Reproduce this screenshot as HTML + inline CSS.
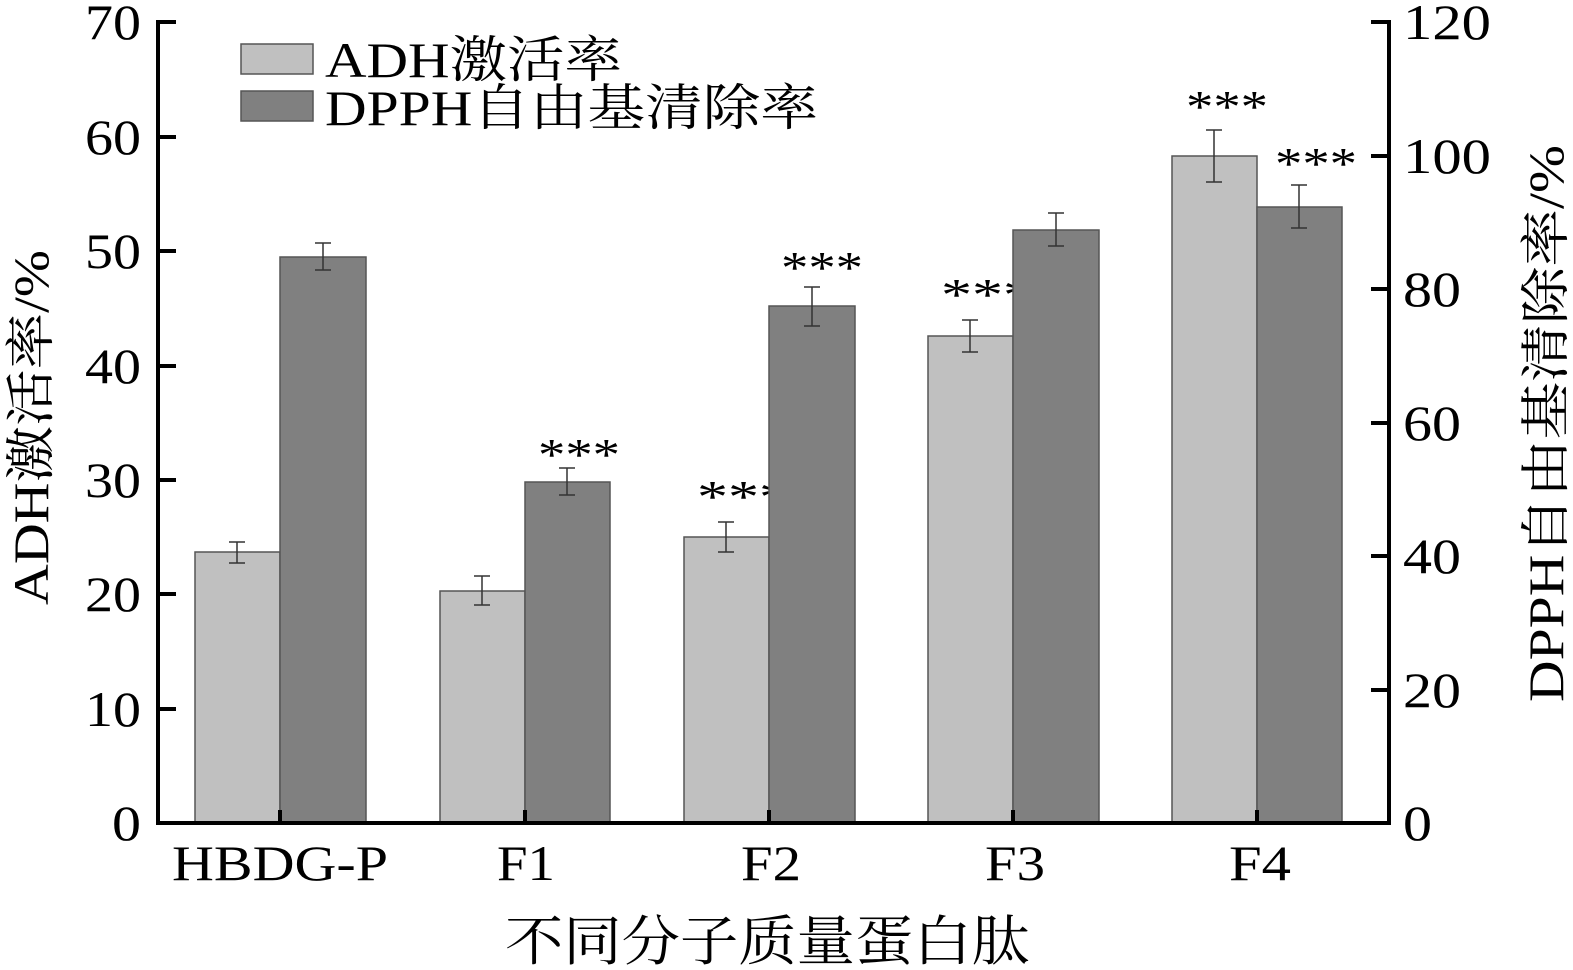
<!DOCTYPE html>
<html><head><style>body{margin:0;background:#fff}svg{display:block}text{font-family:"Liberation Serif","Noto Serif CJK SC",serif;fill:#000}</style></head>
<body>
<svg width="1573" height="970" viewBox="0 0 1573 970" xmlns="http://www.w3.org/2000/svg">
<g stroke="#555" stroke-width="1.5">
<rect x="195" y="552" width="85" height="271" fill="#c0c0c0"/>
<rect x="280" y="257" width="86" height="566" fill="#808080"/>
<rect x="440" y="591" width="85" height="232" fill="#c0c0c0"/>
<rect x="525" y="482" width="85" height="341" fill="#808080"/>
<rect x="684" y="537" width="85" height="286" fill="#c0c0c0"/>
<rect x="928" y="336" width="85" height="487" fill="#c0c0c0"/>
<rect x="1172" y="156" width="85" height="667" fill="#c0c0c0"/>
<rect x="1257" y="207" width="85" height="616" fill="#808080"/>
</g>
<g font-size="46">
<text x="538" y="470" textLength="82" lengthAdjust="spacingAndGlyphs">***</text>
<text x="781" y="283" textLength="82" lengthAdjust="spacingAndGlyphs">***</text>
<text x="1275" y="179" textLength="82" lengthAdjust="spacingAndGlyphs">***</text>
<text x="1186" y="122" textLength="82" lengthAdjust="spacingAndGlyphs">***</text>
<text x="697" y="512" textLength="93" lengthAdjust="spacingAndGlyphs">***</text>
<text x="941" y="310" textLength="93" lengthAdjust="spacingAndGlyphs">***</text>
</g>
<g stroke="#555" stroke-width="1.5">
<rect x="769" y="306" width="86" height="517" fill="#808080"/>
<rect x="1013" y="230" width="86" height="593" fill="#808080"/>
</g>
<g stroke="#333" stroke-width="1.5" fill="none">
<path d="M237 542V563M229 542H245M229 563H245"/>
<path d="M323 243V270M315 243H331M315 270H331"/>
<path d="M482 576V605M474 576H490M474 605H490"/>
<path d="M567 468V495M559 468H575M559 495H575"/>
<path d="M726 522V552M718 522H734M718 552H734"/>
<path d="M812 287V326M804 287H820M804 326H820"/>
<path d="M970 320V352M962 320H978M962 352H978"/>
<path d="M1056 213V246M1048 213H1064M1048 246H1064"/>
<path d="M1214 130V182M1206 130H1222M1206 182H1222"/>
<path d="M1299 185V228M1291 185H1307M1291 228H1307"/>
</g>
<g stroke="#000" stroke-width="4" fill="none">
<path d="M158 20V823H1389V20"/>
<path d="M158 22H176M158 137H176M158 251H176M158 366H176M158 480H176M158 594H176M158 709H176"/>
<path d="M1389 22H1371M1389 156H1371M1389 289H1371M1389 423H1371M1389 556H1371M1389 690H1371"/>
<path d="M280 823V810M525 823V810M769 823V810M1013 823V810M1257 823V810"/>
</g>
<g font-size="50">
<text x="85" y="39" textLength="56" lengthAdjust="spacingAndGlyphs">70</text>
<text x="85" y="154" textLength="56" lengthAdjust="spacingAndGlyphs">60</text>
<text x="85" y="268" textLength="56" lengthAdjust="spacingAndGlyphs">50</text>
<text x="85" y="383" textLength="56" lengthAdjust="spacingAndGlyphs">40</text>
<text x="85" y="497" textLength="56" lengthAdjust="spacingAndGlyphs">30</text>
<text x="85" y="611" textLength="56" lengthAdjust="spacingAndGlyphs">20</text>
<text x="85" y="726" textLength="56" lengthAdjust="spacingAndGlyphs">10</text>
<text x="112" y="840" textLength="29" lengthAdjust="spacingAndGlyphs">0</text>
<text x="1403" y="39" textLength="88" lengthAdjust="spacingAndGlyphs">120</text>
<text x="1403" y="173" textLength="88" lengthAdjust="spacingAndGlyphs">100</text>
<text x="1403" y="306" textLength="58" lengthAdjust="spacingAndGlyphs">80</text>
<text x="1403" y="440" textLength="58" lengthAdjust="spacingAndGlyphs">60</text>
<text x="1403" y="573" textLength="58" lengthAdjust="spacingAndGlyphs">40</text>
<text x="1403" y="707" textLength="58" lengthAdjust="spacingAndGlyphs">20</text>
<text x="1403" y="840" textLength="29" lengthAdjust="spacingAndGlyphs">0</text>
<text x="172" y="880" textLength="216" lengthAdjust="spacingAndGlyphs">HBDG-P</text>
<text x="497" y="880" textLength="58" lengthAdjust="spacingAndGlyphs">F1</text>
<text x="741" y="880" textLength="60" lengthAdjust="spacingAndGlyphs">F2</text>
<text x="985" y="880" textLength="60" lengthAdjust="spacingAndGlyphs">F3</text>
<text x="1229" y="880" textLength="62" lengthAdjust="spacingAndGlyphs">F4</text>
<text x="505" y="960" font-size="54" textLength="525" lengthAdjust="spacingAndGlyphs">不同分子质量蛋白肽</text>
<text transform="translate(48 605) rotate(-90)" textLength="355" lengthAdjust="spacingAndGlyphs">ADH激活率/%</text>
<text transform="translate(1563 702) rotate(-90)" textLength="557" lengthAdjust="spacingAndGlyphs">DPPH自由基清除率/%</text>
<text x="325" y="77" textLength="297" lengthAdjust="spacingAndGlyphs">ADH激活率</text>
<text x="325" y="125" textLength="493" lengthAdjust="spacingAndGlyphs">DPPH自由基清除率</text>
</g>
<rect x="241" y="44" width="72" height="30" fill="#c0c0c0" stroke="#555" stroke-width="1.5"/>
<rect x="241" y="91" width="72" height="30" fill="#808080" stroke="#555" stroke-width="1.5"/>
</svg>
</body></html>
